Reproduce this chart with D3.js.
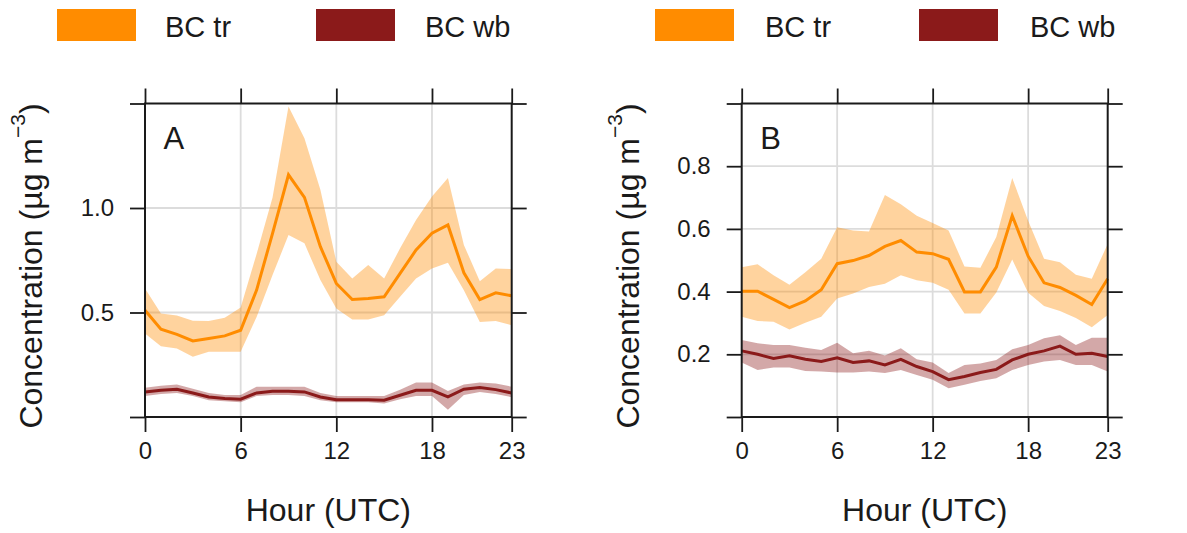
<!DOCTYPE html>
<html>
<head>
<meta charset="utf-8">
<script src="https://cdn.jsdelivr.net/npm/d3@7"></script>
<style>
  html, body { margin: 0; padding: 0; background: #fff; }
  svg { display: block; font-family: "Liberation Sans", Arial, sans-serif; }
</style>
</head>
<body>
<svg id="chart" width="1187" height="533"></svg>
<script>
// ---------------- data ----------------
const hours = d3.range(0, 24);
const xTicks = [0, 6, 12, 18, 23];
const legendLabels = ["BC tr", "BC wb"];
const seriesColors = ["#FF8C00", "#8B1A1A"];

// Panel A
const aTrMean  = [0.511,0.420,0.395,0.364,0.376,0.388,0.415,0.607,0.879,1.159,1.051,0.815,0.639,0.562,0.567,0.575,0.687,0.799,0.879,0.919,0.690,0.562,0.594,0.580];
const aTrUpper = [0.615,0.495,0.486,0.460,0.459,0.475,0.524,0.780,1.050,1.486,1.334,1.087,0.743,0.663,0.727,0.663,0.807,0.943,1.055,1.143,0.823,0.650,0.711,0.708];
const aTrLower = [0.400,0.339,0.328,0.288,0.312,0.312,0.312,0.479,0.679,0.871,0.831,0.655,0.519,0.467,0.467,0.487,0.575,0.663,0.711,0.738,0.607,0.455,0.459,0.439];
const aWbMean  = [0.120,0.128,0.133,0.115,0.096,0.088,0.085,0.115,0.123,0.123,0.120,0.096,0.083,0.083,0.083,0.080,0.104,0.128,0.128,0.096,0.133,0.141,0.131,0.115];
const aWbUpper = [0.140,0.150,0.155,0.135,0.115,0.105,0.105,0.145,0.145,0.145,0.145,0.115,0.100,0.100,0.100,0.100,0.130,0.165,0.165,0.125,0.155,0.165,0.160,0.145];
const aWbLower = [0.100,0.110,0.115,0.100,0.080,0.075,0.070,0.100,0.105,0.105,0.100,0.080,0.070,0.070,0.070,0.065,0.085,0.100,0.100,0.035,0.105,0.120,0.110,0.095];
const aYTicks = [0, 0.5, 1.0, 1.5];
const aYLabels = [0.5, 1.0];

// Panel B
const bTrMean  = [0.401,0.401,0.375,0.349,0.370,0.406,0.489,0.499,0.515,0.544,0.563,0.526,0.521,0.503,0.399,0.399,0.478,0.642,0.513,0.428,0.413,0.388,0.359,0.441];
const bTrUpper = [0.478,0.487,0.452,0.422,0.462,0.505,0.605,0.595,0.592,0.708,0.679,0.642,0.619,0.595,0.480,0.476,0.574,0.762,0.626,0.505,0.494,0.454,0.441,0.552];
const bTrLower = [0.320,0.306,0.304,0.279,0.301,0.320,0.378,0.394,0.415,0.425,0.452,0.436,0.428,0.406,0.330,0.330,0.397,0.502,0.396,0.354,0.338,0.316,0.286,0.325];
const bWbMean  = [0.211,0.200,0.187,0.195,0.184,0.177,0.189,0.174,0.179,0.166,0.184,0.161,0.145,0.119,0.129,0.142,0.152,0.182,0.200,0.211,0.226,0.200,0.203,0.193];
const bWbUpper = [0.246,0.235,0.230,0.230,0.221,0.214,0.237,0.203,0.211,0.196,0.219,0.184,0.174,0.140,0.166,0.171,0.182,0.216,0.230,0.251,0.261,0.230,0.253,0.253];
const bWbLower = [0.174,0.150,0.158,0.158,0.147,0.145,0.142,0.142,0.145,0.140,0.150,0.134,0.119,0.092,0.103,0.115,0.124,0.150,0.166,0.177,0.182,0.166,0.166,0.145];
const bYTicks = [0, 0.2, 0.4, 0.6, 0.8, 1.0];
const bYLabels = [0.2, 0.4, 0.6, 0.8];

// ---------------- drawing ----------------
const svg = d3.select("#chart");
const ink = "#1a1a1a";

const panels = [
  { letter: "A", left: 145, right: 511.7, yMax: 1.5, yTicks: aYTicks, yLabels: aYLabels,
    series: [[aTrMean, aTrUpper, aTrLower], [aWbMean, aWbUpper, aWbLower]] },
  { letter: "B", left: 741.7, right: 1107.7, yMax: 1.0, yTicks: bYTicks, yLabels: bYLabels,
    series: [[bTrMean, bTrUpper, bTrLower], [bWbMean, bWbUpper, bWbLower]] }
];
const plotTop = 103.5, plotBottom = 417;
const tickLen = 15;

panels.forEach(p => {
  const x = d3.scaleLinear().domain([0, 23]).range([p.left, p.right]);
  const y = d3.scaleLinear().domain([0, p.yMax]).range([plotBottom, plotTop]);
  const g = svg.append("g");

  // grid
  g.selectAll(".gx").data([6, 12, 18]).enter().append("line")
    .attr("x1", d => x(d)).attr("x2", d => x(d)).attr("y1", plotTop).attr("y2", plotBottom)
    .attr("stroke", "#dcdcdc").attr("stroke-width", 1.8);
  g.selectAll(".gy").data(p.yLabels).enter().append("line")
    .attr("x1", p.left).attr("x2", p.right).attr("y1", d => y(d)).attr("y2", d => y(d))
    .attr("stroke", "#dcdcdc").attr("stroke-width", 1.8);

  // bands
  p.series.forEach((s, i) => {
    const [mean, upper, lower] = s;
    const area = d3.area().x((d, j) => x(hours[j])).y0((d, j) => y(lower[j])).y1((d, j) => y(upper[j]));
    g.append("path").datum(mean).attr("d", area)
      .attr("fill", seriesColors[i]).attr("fill-opacity", 0.38);
  });
  // mean lines
  p.series.forEach((s, i) => {
    const line = d3.line().x((d, j) => x(hours[j])).y(d => y(d));
    g.append("path").datum(s[0]).attr("d", line)
      .attr("fill", "none").attr("stroke", seriesColors[i]).attr("stroke-width", 3)
      .attr("stroke-linejoin", "miter");
  });

  // axes: ticks on all four sides, outward
  const axB = d3.axisBottom(x).tickValues(xTicks).tickSize(tickLen).tickSizeOuter(0).tickPadding(10)
    .tickFormat(d3.format("d"));
  const axT = d3.axisTop(x).tickValues(xTicks).tickSize(tickLen).tickSizeOuter(0).tickFormat("");
  const axL = d3.axisLeft(y).tickValues(p.yTicks).tickSize(tickLen).tickSizeOuter(0).tickPadding(16)
    .tickFormat(d => p.yLabels.includes(d) ? d3.format(".1f")(d) : "");
  const axR = d3.axisRight(y).tickValues(p.yTicks).tickSize(tickLen).tickSizeOuter(0).tickFormat("");

  [[axB, `translate(0,${plotBottom})`], [axT, `translate(0,${plotTop})`],
   [axL, `translate(${p.left},0)`], [axR, `translate(${p.right},0)`]].forEach(([ax, tr]) => {
    const a = g.append("g").attr("transform", tr).call(ax);
    a.select(".domain").remove();
    a.selectAll("line").attr("stroke", ink).attr("stroke-width", 1.8);
    a.selectAll("text").attr("fill", ink).attr("font-size", 24)
      .attr("font-family", "'Liberation Sans', Arial, sans-serif");
  });

  // box
  g.append("rect").attr("x", p.left).attr("y", plotTop)
    .attr("width", p.right - p.left).attr("height", plotBottom - plotTop)
    .attr("fill", "none").attr("stroke", ink).attr("stroke-width", 2);

  // panel letter
  g.append("text").attr("x", p.left + 18.5).attr("y", 149)
    .attr("font-size", 31).attr("fill", ink).text(p.letter);

  // x title
  g.append("text").attr("x", (p.left + p.right) / 2).attr("y", 521)
    .attr("text-anchor", "middle").attr("font-size", 32).attr("fill", ink).text("Hour (UTC)");

  // y title
  const yt = g.append("text").attr("transform", `translate(${p.left - 103},266) rotate(-90)`)
    .attr("text-anchor", "middle").attr("font-size", 32).attr("fill", ink);
  yt.append("tspan").text("Concentration (\u00B5g m");
  yt.append("tspan").attr("dy", -17).attr("font-size", 21).text("\u22123");
  yt.append("tspan").attr("dy", 17).text(")");
});

// legends
const legendRects = [57, 316, 655, 919];
const legendTextX = [165, 425, 765, 1030];
legendRects.forEach((lx, k) => {
  const i = k % 2;
  svg.append("rect").attr("x", lx).attr("y", 9).attr("width", 79).attr("height", 32)
    .attr("fill", seriesColors[i]);
  svg.append("text").attr("x", legendTextX[k]).attr("y", 37)
    .attr("font-size", 29).attr("fill", ink).text(legendLabels[i]);
});
</script>
</body>
</html>
